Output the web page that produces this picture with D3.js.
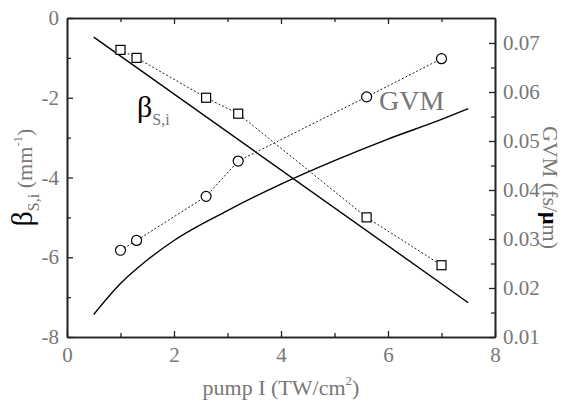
<!DOCTYPE html>
<html>
<head>
    <meta charset="utf-8">
    <title>beta and GVM vs pump intensity</title>
    <script src="https://d3js.org/d3.v7.min.js"></script>
    <style>
        body { margin: 0; background: #fff; }
        text { font-family: "Liberation Serif", "DejaVu Serif", serif; }
    </style>
</head>
<body>
<div id="chart"></div>
<script type="text/javascript">
    // measured points (open markers, dotted)
    let pumpMeas = [1, 1.3, 2.6, 3.2, 5.6, 7];
    let betaMeas = [-0.8, -1.0, -2.0, -2.4, -5.0, -6.2];
    let gvmMeas = [0.0277, 0.0297, 0.0387, 0.0459, 0.059, 0.0668];

    // calculated curves (solid)
    let pumpBetaCalc = [0.5, 7.5];
    let betaCalc = [-0.48, -7.14];
    let pumpGvmCalc = [0.5, 1, 1.5, 2, 3, 4, 5, 6, 7, 7.5];
    let gvmCalc = [0.0146, 0.0209, 0.0257, 0.0297, 0.0358, 0.0412, 0.046, 0.0504, 0.0544, 0.0566];

    let xTicks = [0, 2, 4, 6, 8];
    let betaTicks = [0, -2, -4, -6, -8];
    let gvmTicks = [0.01, 0.02, 0.03, 0.04, 0.05, 0.06, 0.07];

    let margin = {top: 18, right: 79, bottom: 72, left: 67};
    let w = 574 - margin.left - margin.right;
    let h = 409 - margin.top - margin.bottom;
    let grey = "#777";
    let serif = "'Liberation Serif', 'DejaVu Serif', serif";

    let svg = d3.select("#chart")
            .append("svg")
                .attr("width", 574)
                .attr("height", 409)
            .append("g")
                .attr("transform", "translate(" + margin.left + "," + margin.top + ")");

    let x = d3.scaleLinear().domain([0, 8]).range([0, w]);
    let yL = d3.scaleLinear().domain([-8, 0]).range([h, 0]);
    let yR = d3.scaleLinear().domain([0.01, 0.0751]).range([h, 0]);

    // axes: major ticks labelled, minor ticks halfway, all pointing inward
    function axisStyle(g) {
        g.attr("font-family", serif);
        g.select(".domain").attr("stroke", "#222").attr("stroke-width", 1.6);
        g.selectAll(".tick line").attr("stroke", "#222").attr("stroke-width", 1.3);
        g.selectAll(".tick text").attr("fill", grey).attr("font-size", "21px")
            .attr("font-family", serif);
    }

    let xMinor = d3.range(1, 8, 2);
    let lMinor = d3.range(-7, 0, 2);
    let rMinor = d3.range(0.015, 0.075, 0.01);

    // bottom
    svg.append("g").attr("transform", "translate(0," + h + ")")
        .call(d3.axisBottom(x).tickValues(xMinor).tickSize(-4).tickFormat("").tickSizeOuter(0)).call(axisStyle);
    svg.append("g").attr("transform", "translate(0," + h + ")")
        .call(d3.axisBottom(x).tickValues(xTicks).tickSize(-6).tickPadding(10).tickSizeOuter(0)).call(axisStyle);
    // top
    svg.append("g")
        .call(d3.axisTop(x).tickValues(xMinor).tickSize(-4).tickFormat("").tickSizeOuter(0)).call(axisStyle);
    svg.append("g")
        .call(d3.axisTop(x).tickValues(xTicks.slice(1, 4)).tickSize(-6).tickFormat("").tickSizeOuter(0)).call(axisStyle);
    // left
    svg.append("g")
        .call(d3.axisLeft(yL).tickValues(lMinor).tickSize(-4).tickFormat("").tickSizeOuter(0)).call(axisStyle);
    svg.append("g")
        .call(d3.axisLeft(yL).tickValues(betaTicks).tickSize(-6).tickPadding(8).tickSizeOuter(0)
            .tickFormat(d => d === 0 ? "0" : "-" + Math.abs(d))).call(axisStyle);
    // right
    svg.append("g").attr("transform", "translate(" + w + ",0)")
        .call(d3.axisRight(yR).tickValues(rMinor).tickSize(-4).tickFormat("").tickSizeOuter(0)).call(axisStyle);
    svg.append("g").attr("transform", "translate(" + w + ",0)")
        .call(d3.axisRight(yR).tickValues(gvmTicks).tickSize(-6).tickPadding(8).tickSizeOuter(0)
            .tickFormat(d3.format(".2f"))).call(axisStyle);

    // solid calculated lines
    let betaLine = d3.line().x(d => x(d[0])).y(d => yL(d[1]));
    let gvmLine = d3.line().x(d => x(d[0])).y(d => yR(d[1])).curve(d3.curveMonotoneX);

    svg.append("path")
        .datum(d3.zip(pumpBetaCalc, betaCalc))
        .attr("d", betaLine)
        .attr("fill", "none").attr("stroke", "#000").attr("stroke-width", 1.4);
    svg.append("path")
        .datum(d3.zip(pumpGvmCalc, gvmCalc))
        .attr("d", gvmLine)
        .attr("fill", "none").attr("stroke", "#000").attr("stroke-width", 1.4);

    // dotted measured lines
    let betaData = d3.zip(pumpMeas, betaMeas);
    let gvmData = d3.zip(pumpMeas, gvmMeas);

    svg.append("path")
        .datum(betaData)
        .attr("d", d3.line().x(d => x(d[0])).y(d => yL(d[1])))
        .attr("fill", "none").attr("stroke", "#222").attr("stroke-width", 1)
        .attr("stroke-dasharray", "2,2");
    svg.append("path")
        .datum(gvmData)
        .attr("d", d3.line().x(d => x(d[0])).y(d => yR(d[1])))
        .attr("fill", "none").attr("stroke", "#222").attr("stroke-width", 1)
        .attr("stroke-dasharray", "2,2");

    // markers
    svg.selectAll("rect.sq")
       .data(betaData)
       .enter()
       .append("rect")
       .attr("class", "sq")
       .attr("x", d => x(d[0]) - 4.5)
       .attr("y", d => yL(d[1]) - 4.5)
       .attr("width", 9).attr("height", 9)
       .attr("fill", "#fff").attr("stroke", "#000").attr("stroke-width", 1.2);

    svg.selectAll("circle")
       .data(gvmData)
       .enter()
       .append("circle")
       .attr("cx", d => x(d[0]))
       .attr("cy", d => yR(d[1]))
       .attr("r", 5)
       .attr("fill", "#fff").attr("stroke", "#000").attr("stroke-width", 1.2);

    // in-plot labels
    let bl = svg.append("text").attr("x", 137 - margin.left).attr("y", 117 - margin.top);
    bl.append("tspan").text("β").attr("font-size", "30px").attr("fill", "#000");
    bl.append("tspan").text("S,i").attr("font-size", "16px").attr("fill", grey).attr("dy", 8);

    svg.append("text")
       .attr("x", 379 - margin.left).attr("y", 110 - margin.top)
       .attr("font-size", "28px").attr("fill", grey)
       .text("GVM");

    // axis titles
    let xt = svg.append("text")
       .attr("x", w / 2).attr("y", 395 - margin.top)
       .attr("text-anchor", "middle").attr("font-size", "22px").attr("fill", grey);
    xt.append("tspan").text("pump I (TW/cm");
    xt.append("tspan").text("2").attr("font-size", "13px").attr("dy", -10);
    xt.append("tspan").text(")").attr("dy", 10);

    let lt = svg.append("text")
       .attr("transform", "translate(" + (32 - margin.left) + "," + (h / 2) + ") rotate(-90)")
       .attr("text-anchor", "middle").attr("font-size", "22px").attr("fill", grey);
    lt.append("tspan").text("β").attr("font-size", "30px").attr("fill", "#000");
    lt.append("tspan").text("S,i").attr("font-size", "16px").attr("dy", 7);
    lt.append("tspan").text(" (mm").attr("dy", -7);
    lt.append("tspan").text("-1").attr("font-size", "13px").attr("dy", -10);
    lt.append("tspan").text(")").attr("dy", 10);

    let rt = svg.append("text")
       .attr("transform", "translate(" + (w + 48) + "," + (h / 2 + 10) + ") rotate(90)")
       .attr("text-anchor", "middle").attr("font-size", "22px").attr("fill", grey);
    rt.append("tspan").text("GVM (fs/");
    rt.append("tspan").text("μ").attr("font-weight", "bold").attr("fill", "#000");
    rt.append("tspan").text("m)");
</script>
</body>
</html>
